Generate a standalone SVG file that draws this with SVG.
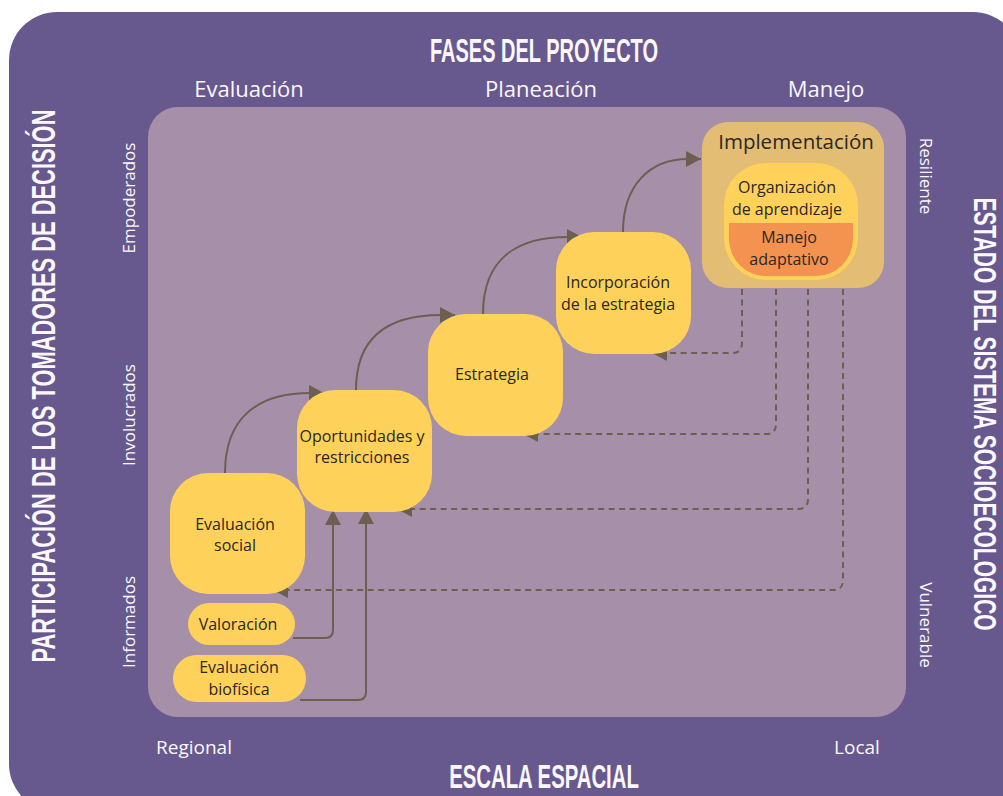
<svg xmlns="http://www.w3.org/2000/svg" width="1003" height="796" viewBox="0 0 1003 796">
  <defs>
    <style>
      .title { font-family: "Liberation Sans", "DejaVu Sans", sans-serif; font-weight: bold; font-size: 33px; fill: #FBF7FB; text-anchor: middle; }
      .lbl { font-family: "Open Sans", "Liberation Sans", sans-serif; fill: #FBF7FB; }
      .node { fill: #FED25A; }
      .ntxt { font-family: "Open Sans", "Liberation Sans", sans-serif; font-size: 16px; fill: #2B2723; text-anchor: middle; }
      .solid { fill: none; stroke: #6B604F; stroke-width: 2; }
      .dash { fill: none; stroke: #6B604F; stroke-width: 2; stroke-dasharray: 6 4.5; }
    </style>
    <marker id="ah" markerUnits="userSpaceOnUse" markerWidth="18" markerHeight="18" refX="15" refY="8" orient="auto">
      <path d="M0 0 L15 8 L0 16 Z" fill="#6B604F"/>
    </marker>
  </defs>

  <!-- background -->
  <rect x="9" y="12" width="1012" height="800" rx="48" fill="#67598E"/>
  <rect x="148" y="107" width="758" height="610" rx="30" fill="#A68FA9"/>

  <!-- titles -->
  <text class="title" transform="translate(544 62) scale(0.606 1)">FASES DEL PROYECTO</text>
  <text class="title" transform="translate(544 788) scale(0.616 1)">ESCALA ESPACIAL</text>
  <text class="title" transform="translate(55 386) rotate(-90) scale(0.663 1)">PARTICIPACIÓN DE LOS TOMADORES DE  DECISIÓN</text>
  <text class="title" style="font-size:32px" transform="translate(974 414) rotate(90) scale(0.656 1)">ESTADO DEL SISTEMA SOCIOECOLOGICO</text>

  <!-- axis labels -->
  <g class="lbl" font-size="22" text-anchor="middle">
    <text x="249" y="97">Evaluación</text>
    <text x="541" y="97">Planeación</text>
    <text x="826" y="97">Manejo</text>
  </g>
  <g class="lbl" font-size="19" text-anchor="middle">
    <text x="194" y="754">Regional</text>
    <text x="857" y="754">Local</text>
  </g>
  <g class="lbl" font-size="17" text-anchor="middle">
    <text transform="translate(135 198) rotate(-90)">Empoderados</text>
    <text transform="translate(135 415) rotate(-90)">Involucrados</text>
    <text transform="translate(135 622) rotate(-90)">Informados</text>
    <text transform="translate(920 176) rotate(90)">Resiliente</text>
    <text transform="translate(920 625) rotate(90)">Vulnerable</text>
  </g>

  <!-- connectors -->
  <g id="connectors">
    <path class="solid" d="M225 473 C225 420 255 393 310 393 L324 393" marker-end="url(#ah)"/>
    <path class="solid" d="M356 390 C356 338 386 315 441 315 L455 315" marker-end="url(#ah)"/>
    <path class="solid" d="M483 314 C483 262 513 237 568 237 L582 237" marker-end="url(#ah)"/>
    <path class="solid" d="M623 232 C623 185 650 159 688 159 L701 159" marker-end="url(#ah)"/>
    <path class="solid" d="M293 638 H325 Q333 638 333 630 V510" marker-end="url(#ah)"/>
    <path class="solid" d="M300 700 H358 Q366 700 366 692 V509" marker-end="url(#ah)"/>
    <path class="dash" d="M742 289 V343 Q742 353 732 353 H652" marker-end="url(#ah)"/>
    <path class="dash" d="M776 289 V424 Q776 434 766 434 H523" marker-end="url(#ah)"/>
    <path class="dash" d="M808 289 V499 Q808 509 798 509 H397" marker-end="url(#ah)"/>
    <path class="dash" d="M843 289 V580 Q843 590 833 590 H273" marker-end="url(#ah)"/>
  </g>

  <!-- nodes -->
  <g id="evaluacion-social">
    <rect class="node" x="170" y="473" width="135" height="121" rx="38"/>
    <text class="ntxt" x="235" y="530">Evaluación</text>
    <text class="ntxt" x="235" y="551">social</text>
  </g>
  <g id="valoracion">
    <rect class="node" x="188" y="603" width="107" height="42" rx="21"/>
    <text class="ntxt" x="238" y="630">Valoración</text>
  </g>
  <g id="evaluacion-biofisica">
    <rect class="node" x="173" y="655" width="133" height="47" rx="23.5"/>
    <text class="ntxt" x="239" y="673">Evaluación</text>
    <text class="ntxt" x="239" y="695">biofísica</text>
  </g>
  <g id="oportunidades">
    <rect class="node" x="297" y="390" width="135" height="122" rx="38"/>
    <text class="ntxt" x="362" y="442">Oportunidades y</text>
    <text class="ntxt" x="362" y="463">restricciones</text>
  </g>
  <g id="estrategia">
    <rect class="node" x="428" y="314" width="135" height="122" rx="38"/>
    <text class="ntxt" x="492" y="380">Estrategia</text>
  </g>
  <g id="incorporacion">
    <rect class="node" x="556" y="232" width="135" height="122" rx="38"/>
    <text class="ntxt" x="618" y="288">Incorporación</text>
    <text class="ntxt" x="618" y="310">de la estrategia</text>
  </g>
  <g id="implementacion">
    <rect x="702" y="122" width="182" height="166" rx="26" fill="#E3BD73"/>
    <text class="ntxt" x="796" y="149" style="font-size:20.5px">Implementación</text>
    <rect class="node" x="724" y="163" width="134" height="117" rx="42"/>
    <path d="M729 223 H853 V239 A37 37 0 0 1 816 276 H766 A37 37 0 0 1 729 239 Z" fill="#F4924F"/>
    <text class="ntxt" x="787" y="193">Organización</text>
    <text class="ntxt" x="787" y="215">de aprendizaje</text>
    <text class="ntxt" x="789" y="243">Manejo</text>
    <text class="ntxt" x="789" y="265">adaptativo</text>
  </g>
</svg>
